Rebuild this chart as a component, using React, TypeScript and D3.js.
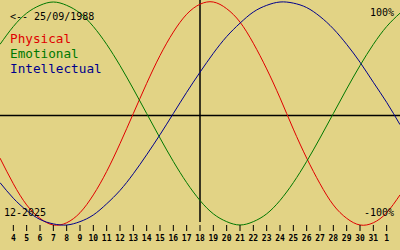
import React from "react";
import * as d3 from "d3";

// Days shown (Dec 3 2025 .. Jan 2 2026); chart edges fall on first and last
const days = [3, 4, 5, 6, 7, 8, 9, 10, 11, 12, 13, 14, 15, 16, 17, 18, 19, 20, 21, 22, 23, 24, 25, 26, 27, 28, 29, 30, 31, 1, 2];
const tickDays = [4, 5, 6, 7, 8, 9, 10, 11, 12, 13, 14, 15, 16, 17, 18, 19, 20, 21, 22, 23, 24, 25, 26, 27, 28, 29, 30, 31, 1];

const physical = [-0.4, -0.63, -0.82, -0.94, -1.0, -0.98, -0.89, -0.73, -0.52, -0.27, 0.0, 0.27, 0.52, 0.73, 0.89, 0.98, 1.0, 0.94, 0.82, 0.63, 0.4, 0.14, -0.14, -0.4, -0.63, -0.82, -0.94, -1.0, -0.98, -0.89, -0.73];
const emotional = [0.62, 0.78, 0.9, 0.97, 1.0, 0.97, 0.9, 0.78, 0.62, 0.43, 0.22, 0.0, -0.22, -0.43, -0.62, -0.78, -0.9, -0.97, -1.0, -0.97, -0.9, -0.78, -0.62, -0.43, -0.22, 0.0, 0.22, 0.43, 0.62, 0.78, 0.9];
const intellectual = [-0.62, -0.76, -0.87, -0.95, -0.99, -1.0, -0.97, -0.91, -0.81, -0.69, -0.54, -0.37, -0.19, 0.0, 0.19, 0.37, 0.54, 0.69, 0.81, 0.91, 0.97, 1.0, 0.99, 0.95, 0.87, 0.76, 0.62, 0.46, 0.28, 0.1, -0.1];

const seriesNames = ["Physical", "Emotional", "Intellectual"];
const seriesColors = ["#e00000", "#007800", "#00008c"];
const birthLabel = "<-- 25/09/1988";
const monthLabel = "12-2025";
const todayIndex = 15; // Dec 18

const W = 400;
const H = 250;
const BG = "#e2d385";
const MONO = "'DejaVu Sans Mono', 'Liberation Mono', monospace";

export default function App() {
  const x = d3.scaleLinear().domain([0, days.length - 1]).range([0, W]);
  const y = d3.scaleLinear().domain([-1, 1]).range([225, 2]);
  const line = d3
    .line<number>()
    .x((_, i) => x(i))
    .y((d) => y(d))
    .curve(d3.curveNatural);
  const series = [physical, emotional, intellectual];

  return (
    <svg
      width={W}
      height={H}
      style={{ position: "absolute", left: 0, top: 0, display: "block" }}
    >
      <rect x={0} y={0} width={W} height={H} fill={BG} />
      {/* axes */}
      <line x1={0} x2={W} y1={115.5} y2={115.5} stroke="#000" strokeWidth={1.3} />
      <line x1={x(todayIndex)} x2={x(todayIndex)} y1={0} y2={222} stroke="#000" strokeWidth={1.5} />
      {/* curves */}
      {series.map((s, k) => (
        <path key={k} d={line(s) || ""} fill="none" stroke={seriesColors[k]} strokeWidth={1} />
      ))}
      {/* ticks */}
      {tickDays.map((d, i) => (
        <g key={i} transform={`translate(${x(i + 1)},0)`}>
          <line x1={0} x2={0} y1={225} y2={231} stroke="#000" strokeWidth={1} />
          <text
            x={0}
            y={241}
            textAnchor="middle"
            fontFamily={MONO}
            fontSize={8}
            fontWeight="bold"
            fill="#000"
          >
            {d}
          </text>
        </g>
      ))}
      {/* labels */}
      <text x={10} y={20} fontFamily={MONO} fontSize={10} fill="#000">
        {birthLabel}
      </text>
      {seriesNames.map((n, k) => (
        <text key={n} x={10} y={43 + k * 15} fontFamily={MONO} fontSize={12.7} fill={seriesColors[k]}>
          {n}
        </text>
      ))}
      <text x={394} y={16} textAnchor="end" fontFamily={MONO} fontSize={10} fill="#000">
        100%
      </text>
      <text x={394} y={216} textAnchor="end" fontFamily={MONO} fontSize={10} fill="#000">
        -100%
      </text>
      <text x={4} y={216} fontFamily={MONO} fontSize={10} fill="#000">
        {monthLabel}
      </text>
    </svg>
  );
}
